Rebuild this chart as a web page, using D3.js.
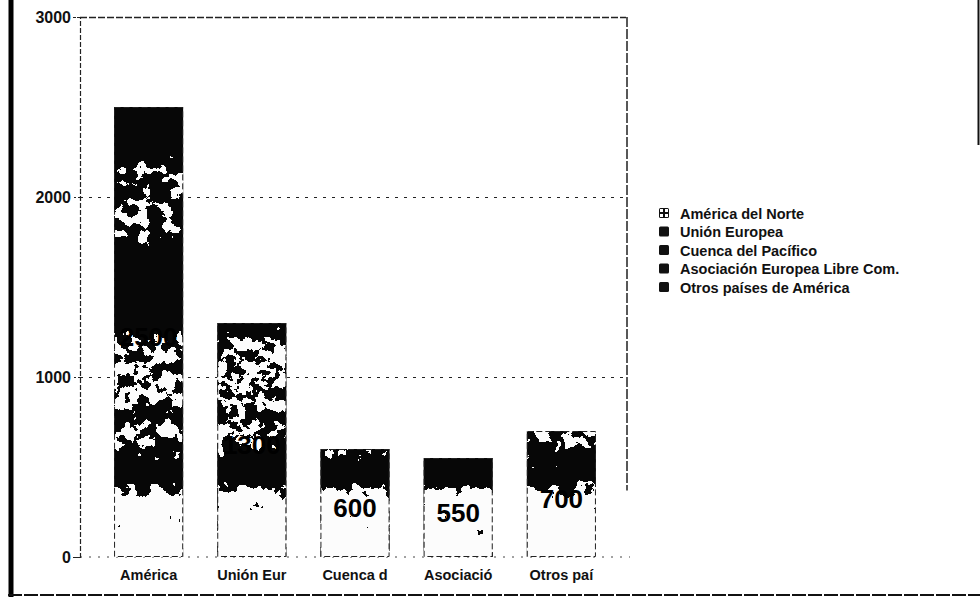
<!DOCTYPE html>
<html>
<head>
<meta charset="utf-8">
<script src="https://cdn.jsdelivr.net/npm/d3@7"></script>
<style>
  html, body { margin: 0; padding: 0; background: #fff; }
  svg { display: block; }
  text { font-family: "Liberation Sans", Arial, sans-serif; fill: #111; }
</style>
</head>
<body>
<svg id="chart" width="980" height="597"></svg>
<script>
// Exportaciones por destino
const categories = ["América", "Unión Eur", "Cuenca d", "Asociació", "Otros paí"];
const values = [2500, 1300, 600, 550, 700];
const seriesNames = [
  "América del Norte",
  "Unión Europea",
  "Cuenca del Pacífico",
  "Asociación Europea Libre Com.",
  "Otros países de América"
];
const yTicks = [0, 1000, 2000, 3000];

const svg = d3.select("#chart");
const W = 980, H = 597;
const plot = { left: 80, right: 630, top: 17, bottom: 557 };

const x = d3.scaleBand()
  .domain(categories)
  .range([plot.left, plot.right])
  .paddingInner(0.33)
  .paddingOuter(0.33);

const y = d3.scaleLinear()
  .domain([0, 3000])
  .range([plot.bottom, plot.top]);

const defs = svg.append("defs");

// Grey shading that runs up the bars; the grain filter turns it into a mottled print
const shadeStops = [
  [0, 0.95], [250, 0.86], [330, 0.78], [380, 0.5], [430, 0.06], [530, 0.06],
  [580, 0.3], [640, 0.48], [730, 0.5], [790, 0.32], [860, 0.52], [1200, 0.5],
  [1250, 0.3], [1300, 0.05], [1700, 0.05], [1780, 0.42], [2150, 0.42],
  [2250, 0.05], [3000, 0.05]
];
const grad = defs.append("linearGradient")
  .attr("id", "shade")
  .attr("gradientUnits", "userSpaceOnUse")
  .attr("x1", 0).attr("x2", 0)
  .attr("y1", y(0)).attr("y2", y(3000));
shadeStops.forEach(([v, g]) => {
  const c = Math.round(g * 255);
  grad.append("stop")
    .attr("offset", v / 3000)
    .attr("stop-color", d3.rgb(c, c, c).formatHex());
});

const f = defs.append("filter")
  .attr("id", "grain")
  .attr("filterUnits", "userSpaceOnUse")
  .attr("x", 0).attr("y", 0).attr("width", W).attr("height", H)
  .attr("color-interpolation-filters", "sRGB");
f.append("feTurbulence")
  .attr("type", "fractalNoise")
  .attr("baseFrequency", 0.08)
  .attr("numOctaves", 4)
  .attr("seed", 11)
  .attr("result", "noise");
f.append("feColorMatrix")
  .attr("in", "noise")
  .attr("type", "matrix")
  .attr("values", "1 0 0 0 0  1 0 0 0 0  1 0 0 0 0  0 0 0 0 1")
  .attr("result", "gnoise");
f.append("feComposite")
  .attr("in", "SourceGraphic").attr("in2", "gnoise")
  .attr("operator", "arithmetic")
  .attr("k1", 0).attr("k2", 1).attr("k3", 1.2).attr("k4", -0.6)
  .attr("result", "mix");
const ct = f.append("feComponentTransfer").attr("in", "mix").attr("result", "bw");
["feFuncR", "feFuncG", "feFuncB"].forEach(fn =>
  ct.append(fn).attr("type", "discrete").attr("tableValues", "0.03 0.99"));
f.append("feComposite").attr("in", "bw").attr("in2", "SourceGraphic").attr("operator", "in");

// Checkered swatch for the first legend entry
const pat = defs.append("pattern")
  .attr("id", "checker")
  .attr("patternUnits", "userSpaceOnUse")
  .attr("width", 5).attr("height", 5);
pat.append("rect").attr("width", 5).attr("height", 5).attr("fill", "#111");
pat.append("rect").attr("x", 1).attr("y", 1).attr("width", 3).attr("height", 3).attr("fill", "#fff");

// Page frame
svg.append("line").attr("x1", 11).attr("x2", 11).attr("y1", 0).attr("y2", H)
  .attr("stroke", "#000").attr("stroke-width", 5);
svg.append("line").attr("x1", 8).attr("x2", W).attr("y1", 595).attr("y2", 595)
  .attr("stroke", "#111").attr("stroke-width", 2).attr("stroke-dasharray", "14,2");
svg.append("line").attr("x1", 978.5).attr("x2", 978.5).attr("y1", 0).attr("y2", 145)
  .attr("stroke", "#111").attr("stroke-width", 2);

// Gridlines
const grid = svg.append("g")
  .attr("transform", `translate(${plot.left},0)`)
  .call(d3.axisLeft(y).tickValues(yTicks.filter(t => t > 0))
    .tickSize(-(plot.right - plot.left - 4)).tickFormat(""));
grid.select(".domain").remove();
grid.selectAll(".tick line")
  .attr("stroke", "#222")
  .attr("stroke-dasharray", d => d === 3000 ? "7,2" : "3,6")
  .attr("stroke-width", d => d === 3000 ? 1.3 : 1);

// Right edge of the plot box
svg.append("line")
  .attr("x1", plot.right - 3).attr("x2", plot.right - 3)
  .attr("y1", y(3000)).attr("y2", y(370))
  .attr("stroke", "#111").attr("stroke-width", 1.4).attr("stroke-dasharray", "10,2");

// Baseline
svg.append("line")
  .attr("x1", plot.left).attr("x2", plot.right)
  .attr("y1", y(0)).attr("y2", y(0))
  .attr("stroke", "#444").attr("stroke-dasharray", "2,7");

// Bars
const bars = svg.append("g").attr("filter", "url(#grain)");
bars.selectAll("rect")
  .data(values)
  .join("rect")
  .attr("x", (d, i) => x(categories[i]))
  .attr("y", d => y(d))
  .attr("width", x.bandwidth())
  .attr("height", d => y(0) - y(d))
  .attr("fill", "url(#shade)");
svg.append("g").selectAll("rect")
  .data(values)
  .join("rect")
  .attr("x", (d, i) => x(categories[i]) + 0.5)
  .attr("y", d => y(d) + 0.5)
  .attr("width", x.bandwidth() - 1)
  .attr("height", d => y(0) - y(d) - 1)
  .attr("fill", "none")
  .attr("stroke", "#222")
  .attr("stroke-width", 1)
  .attr("stroke-dasharray", "6,3");

// Value labels
svg.append("g").selectAll("text")
  .data(values)
  .join("text")
  .attr("x", (d, i) => x(categories[i]) + x.bandwidth() / 2)
  .attr("y", d => (y(d) + y(0)) / 2 + 5)
  .attr("text-anchor", "middle")
  .attr("dominant-baseline", "central")
  .style("font-size", "26px")
  .style("font-weight", "bold")
  .style("fill", "#000")
  .text(d => d);

// Y axis
const yAxis = svg.append("g")
  .attr("transform", `translate(${plot.left},0)`)
  .call(d3.axisLeft(y).tickValues(yTicks).tickSize(7).tickPadding(2).tickFormat(d3.format("d")));
yAxis.select(".domain")
  .attr("stroke", "#222").attr("stroke-width", 1.2).attr("stroke-dasharray", "5,2");
yAxis.selectAll(".tick line").attr("stroke", "#222").attr("stroke-dasharray", "2,2");
yAxis.selectAll(".tick text")
  .style("font-size", "16px").style("font-weight", "bold")
  .style("font-family", "'Liberation Sans', Arial, sans-serif")
  .attr("fill", "#111");

// X axis labels
const xAxis = svg.append("g")
  .attr("transform", `translate(0,${plot.bottom})`)
  .call(d3.axisBottom(x).tickSize(0).tickPadding(13));
xAxis.select(".domain").remove();
xAxis.selectAll(".tick text")
  .style("font-size", "14.5px").style("font-weight", "bold")
  .style("font-family", "'Liberation Sans', Arial, sans-serif")
  .attr("fill", "#111");

// Legend
const legend = svg.append("g").attr("transform", "translate(659,213)");
const item = legend.selectAll("g")
  .data(seriesNames)
  .join("g")
  .attr("transform", (d, i) => `translate(0,${i * 18.5})`);
item.append("rect")
  .attr("x", 0).attr("y", -5)
  .attr("width", 10).attr("height", 10)
  .attr("rx", 1.5)
  .attr("fill", (d, i) => i === 0 ? "url(#checker)" : "#111");
item.append("text")
  .attr("x", 21).attr("y", 0.5)
  .attr("dominant-baseline", "central")
  .style("font-size", "14.5px")
  .style("font-weight", "bold")
  .text(d => d);
</script>
</body>
</html>
